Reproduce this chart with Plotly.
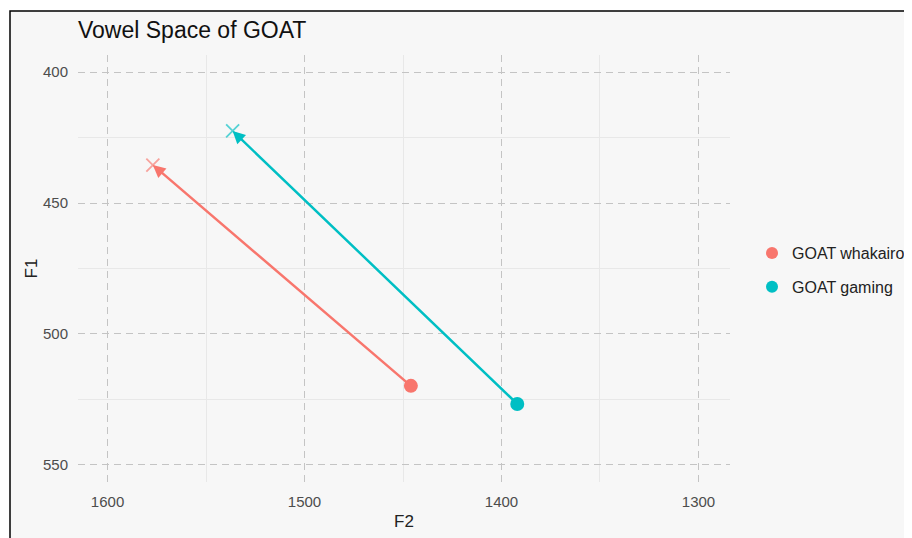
import plotly.graph_objects as go

series = ["GOAT whakairo", "GOAT gaming"]
colors = ["#F8766D", "#00BFC4"]
f2_start = [1577, 1536.5]
f1_start = [435.5, 422.5]
f2_end = [1446, 1392]
f1_end = [519.8, 526.7]

x_ticks = [1600, 1500, 1400, 1300]
y_ticks = [400, 450, 500, 550]

fig = go.Figure()
for i, name in enumerate(series):
    fig.add_trace(go.Scatter(
        x=[f2_end[i]], y=[f1_end[i]], mode="markers", name=name,
        marker=dict(symbol="circle", size=14, color=colors[i]),
        showlegend=True, legendgroup=name))
    fig.add_trace(go.Scatter(
        x=[f2_start[i]], y=[f1_start[i]], mode="markers", name=name,
        marker=dict(symbol="x-thin", size=13, line=dict(width=1.8, color=colors[i])),
        opacity=0.65, showlegend=False, legendgroup=name))
    fig.add_annotation(
        x=f2_start[i], y=f1_start[i], ax=f2_end[i], ay=f1_end[i],
        xref="x", yref="y", axref="x", ayref="y",
        showarrow=True, arrowhead=2, arrowsize=1.0, arrowwidth=2.5,
        arrowcolor=colors[i], standoff=0, text="")

bg = "#f7f7f7"
OFF = 8  # page body margin
W, H = 912, 538
L, T = 78 - OFF, 55 - OFF
R = W - (730 - OFF)
B = H - (482 - OFF)
pw, ph = W - L - R, H - T - B

def px(x):
    return (x - OFF - L) / pw

def py(y):
    return (H - B - (y - OFF)) / ph

fig.add_shape(type="rect", xref="paper", yref="paper",
              x0=px(10), x1=px(960), y0=py(580), y1=py(11),
              fillcolor=bg, line=dict(color="black", width=1.5), layer="below")

axis_common = dict(showline=False, zeroline=False, ticks="outside", ticklen=6,
                   tickcolor="rgba(0,0,0,0)",
                   gridcolor="#c4c4c4", griddash="7px,5px", gridwidth=1.4,
                   tickfont=dict(size=15, color="#4d4d4d"),
                   title_font=dict(size=17, color="#222"))

fig.update_xaxes(range=[1615, 1284], tickvals=x_ticks, title_text="F2",
                 title_standoff=6,
                 minor=dict(tickvals=[1550, 1450, 1350], showgrid=True,
                            gridcolor="#e8e8e8", gridwidth=1, griddash="solid"),
                 **axis_common)
fig.update_yaxes(range=[556.5, 393.5], tickvals=y_ticks, title_text="F1",
                 title_standoff=1,
                 minor=dict(tickvals=[425, 475, 525], showgrid=True,
                            gridcolor="#e8e8e8", gridwidth=1, griddash="solid"),
                 **axis_common)

fig.update_layout(
    width=W, height=H,
    margin=dict(l=L, r=R, t=T, b=B, autoexpand=False),
    paper_bgcolor="white", plot_bgcolor=bg,
    font=dict(family="Liberation Sans, Arial, sans-serif"),
    title=dict(text="Vowel Space of GOAT", x=0, xref="paper", xanchor="left",
               y=1 - (30 - OFF) / H, yref="container", yanchor="middle",
               font=dict(size=23, color="#111")),
    legend=dict(x=px(752), y=py(270), xanchor="left", yanchor="middle",
                bgcolor="rgba(0,0,0,0)", font=dict(size=16, color="#222"),
                itemsizing="constant"),
    showlegend=True,
)

fig.write_html("out.html")
